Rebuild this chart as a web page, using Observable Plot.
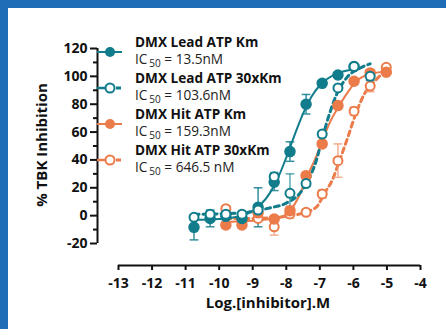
<!DOCTYPE html>
<html><head><meta charset="utf-8">
<script src="https://cdn.jsdelivr.net/npm/d3@7"></script>
<script src="https://cdn.jsdelivr.net/npm/@observablehq/plot@0.6"></script>
<style>
html,body{margin:0;padding:0;background:#fff;}
#frame{position:absolute;left:0;top:0;width:438px;height:321px;border-left:8px solid #1e6db5;border-top:8px solid #1e6db5;background:#fff;overflow:hidden;}
svg{display:block;}
</style></head><body><div id="frame"></div>
<script>
// ---- data (log10 molar dose vs % inhibition) ----
const leadKmDose  = [-10.75,-10.27,-9.80,-9.32,-8.84,-8.36,-7.89,-7.41,-6.93,-6.46,-5.98];
const leadKmVal   = [-8.4,-2,-0.5,-2,6,24,46,80,95,101,107];
const leadKmErr   = [9,6,2,3,14,6,7,7,1.5,1.5,1];

const lead30Dose  = [-10.75,-10.27,-9.80,-9.32,-8.84,-8.36,-7.89,-7.41,-6.93,-6.46,-5.98,-5.50];
const lead30Val   = [-1.2,1,1,1,4,28,16,23,58.6,91.7,107,100];
const lead30Err   = [2,1,1,1,1,3,14,2,2,1.5,1,3];

const hitKmDose   = [-9.80,-9.32,-8.84,-8.36,-7.89,-7.41,-6.93,-6.46,-5.98,-5.50,-5.02];
const hitKmVal    = [-6.7,-6.7,2,-2.4,3.6,28.7,51.5,79,96.5,102.5,103];
const hitKmErr    = [2,2,3,2,3,2,2,2,2,2,1];

const hit30Dose   = [-9.80,-9.32,-8.84,-8.36,-7.89,-7.41,-6.93,-6.46,-5.98,-5.50,-5.02];
const hit30Val    = [5,-4,-2,-8,1.2,2.4,15.6,39.5,75,93,106.5];
const hit30Err    = [2,1,1,6,3,2,3,12,3,4,2];

// fitted curves
const leadKmFit = [[-10.75,-3],[-10,-2.4],[-9.5,-1],[-9,3.4],[-8.5,15.8],[-8.25,27],[-8,41.7],[-7.75,58],[-7.5,73.3],[-7.25,85.3],[-7,93.6],[-6.5,102],[-5.98,105]];
const lead30Fit = [[-10.75,1],[-9.75,1.5],[-9,3],[-8.5,5.5],[-8,9],[-7.6,16],[-7.35,25],[-7.1,40],[-6.9,58],[-6.7,74],[-6.5,87],[-6.2,99],[-5.8,106],[-5.5,109]];
const hitKmFit  = [[-9.8,-4.5],[-9.3,-4],[-8.8,-3.3],[-8.4,-2],[-8.1,-0.5],[-7.87,4],[-7.6,15],[-7.37,28.7],[-7.15,40],[-6.92,54],[-6.7,67],[-6.42,79],[-6.17,88.5],[-5.93,96],[-5.46,102],[-4.98,103.5]];
const hit30Fit  = [[-9.8,-2],[-9,-2],[-8.4,-1.5],[-7.87,0],[-7.41,2.5],[-7.07,7],[-6.89,15],[-6.62,26],[-6.42,39],[-6.17,56],[-5.93,73],[-5.68,87],[-5.46,94],[-5.18,101],[-4.98,105]];

const seriesNames = ["DMX Lead ATP Km","DMX Lead ATP 30xKm","DMX Hit ATP Km","DMX Hit ATP 30xKm"];
const ic50Text    = ["13.5nM","103.6nM","159.3nM","646.5 nM"];
const xTicks      = [-13,-12,-11,-10,-9,-8,-7,-6,-5,-4];
const yTicks      = [-20,0,20,40,60,80,100,120];
const yMinorTicks = [-10,10,30,50,70,90,110];
const xTitle = "Log.[inhibitor].M";
const yTitle = "% TBK Inhibition";

// ---- styling ----
const TEAL = "#117c8b", ORANGE = "#ec7b4a";
const FONT = "'Open Sans', sans-serif";

function rows(dose, val, err) { return dose.map((d, i) => ({x: d, y: val[i], e: err[i]})); }
const sLeadKm = rows(leadKmDose, leadKmVal, leadKmErr);
const sLead30 = rows(lead30Dose, lead30Val, lead30Err);
const sHitKm  = rows(hitKmDose, hitKmVal, hitKmErr);
const sHit30  = rows(hit30Dose, hit30Val, hit30Err);

const CAP = 0.13;
function errMarks(data, color) {
  return [
    Plot.ruleX(data, {x: "x", y1: d => d.y - d.e, y2: d => d.y + d.e, stroke: color, strokeWidth: 1.5, strokeOpacity: 0.85}),
    Plot.link(data, {x1: d => d.x - CAP, x2: d => d.x + CAP, y1: d => d.y + d.e, y2: d => d.y + d.e, stroke: color, strokeWidth: 1.5, strokeOpacity: 0.85}),
    Plot.link(data, {x1: d => d.x - CAP, x2: d => d.x + CAP, y1: d => d.y - d.e, y2: d => d.y - d.e, stroke: color, strokeWidth: 1.5, strokeOpacity: 0.85})
  ];
}

const chart = Plot.plot({
  width: 438, height: 321,
  marginLeft: 110, marginRight: 26, marginTop: 40, marginBottom: 86,
  x: {domain: [-13, -4]},
  y: {domain: [-20, 120]},
  style: {fontFamily: FONT, fontSize: "14px", fontWeight: 700, color: "#111", background: "white", overflow: "visible"},
  marks: [
    // y axis (offset)
    Plot.ruleX([-13], {y1: -20, y2: 120, dx: -21, stroke: "#111", strokeWidth: 2}),
    Plot.axisY({ticks: yTicks, tickSize: 7, tickPadding: 3, dx: -21, tickFormat: d => String(d), label: null, strokeWidth: 2, fontWeight: 700, fontSize: 14, fill: "#111"}),
    Plot.axisY({ticks: yMinorTicks, tickSize: 4, dx: -21, tickFormat: null, text: null, label: null, strokeWidth: 2}),
    // x axis (offset)
    Plot.ruleY([-20], {x1: -13, x2: -4, dy: 22, stroke: "#111", strokeWidth: 2}),
    Plot.axisX({ticks: xTicks, tickSize: 5, tickPadding: 8, dy: 22, tickFormat: d => String(d), label: null, strokeWidth: 2, fontWeight: 700, fontSize: 14, fill: "#111"}),
    // fitted curves
    Plot.line(hit30Fit, {x: d => d[0], y: d => d[1], stroke: ORANGE, strokeWidth: 3, strokeDasharray: "5,4", curve: "monotone-x"}),
    Plot.line(hitKmFit, {x: d => d[0], y: d => d[1], stroke: ORANGE, strokeWidth: 2, curve: "monotone-x"}),
    Plot.line(lead30Fit, {x: d => d[0], y: d => d[1], stroke: TEAL, strokeWidth: 3, strokeDasharray: "5,4", curve: "monotone-x"}),
    Plot.line(leadKmFit, {x: d => d[0], y: d => d[1], stroke: TEAL, strokeWidth: 2, curve: "monotone-x"}),
    // error bars
    ...errMarks(sHit30, "#f0a07c"),
    ...errMarks(sHitKm, ORANGE),
    ...errMarks(sLead30, "#3e9aa6"),
    ...errMarks(sLeadKm, TEAL),
    // points
    Plot.dot(sHit30, {x: "x", y: "y", r: 4.5, stroke: ORANGE, strokeWidth: 2, fill: "white"}),
    Plot.dot(sHitKm, {x: "x", y: "y", r: 5, fill: ORANGE, stroke: ORANGE}),
    Plot.dot(sLeadKm, {x: "x", y: "y", r: 5, fill: TEAL, stroke: TEAL}),
    Plot.dot(sLead30, {x: "x", y: "y", r: 4.5, stroke: TEAL, strokeWidth: 2, fill: "white"})
  ]
});

document.getElementById("frame").appendChild(chart);

// ---- axis titles and legend (pixel layout) ----
const svg = d3.select(chart);
svg.append("text").attr("x", 260).attr("y", 300).attr("text-anchor", "middle")
  .attr("font-family", FONT).attr("font-weight", 700).attr("font-size", 15).attr("fill", "#111").text(xTitle);
svg.append("text").attr("transform", "translate(39,137) rotate(-90)").attr("text-anchor", "middle")
  .attr("font-family", FONT).attr("font-weight", 700).attr("font-size", 15).attr("fill", "#111").text(yTitle);

const legendColors = [TEAL, TEAL, ORANGE, ORANGE];
const legendOpen = [false, true, false, true];
const baseY = [39, 75, 111, 147];
const lg = svg.append("g").attr("text-anchor", "start");
seriesNames.forEach((name, i) => {
  const by = baseY[i], my = by + 5, c = legendColors[i];
  if (legendOpen[i]) {
    lg.append("line").attr("x1", 89).attr("x2", 98).attr("y1", my).attr("y2", my).attr("stroke", c).attr("stroke-width", 2.5);
    lg.append("line").attr("x1", 108).attr("x2", 113).attr("y1", my).attr("y2", my).attr("stroke", c).attr("stroke-width", 3);
    lg.append("circle").attr("cx", 102).attr("cy", my).attr("r", 4.5).attr("fill", "white").attr("stroke", c).attr("stroke-width", 2);
  } else {
    lg.append("line").attr("x1", 89).attr("x2", 114).attr("y1", my).attr("y2", my).attr("stroke", c).attr("stroke-width", 2);
    lg.append("circle").attr("cx", 102).attr("cy", my).attr("r", 5).attr("fill", c);
  }
  lg.append("text").attr("x", 127).attr("y", by).attr("text-anchor", "start").attr("font-family", FONT).attr("font-weight", 700)
    .attr("font-size", 13.6).attr("fill", "#111").text(name);
  const t = lg.append("text").attr("x", 127).attr("y", by + 17).attr("text-anchor", "start").attr("font-family", FONT).attr("font-weight", 400)
    .attr("font-size", 13.6).attr("fill", "#222");
  t.append("tspan").text("IC");
  t.append("tspan").attr("dx", 2).attr("dy", 3).attr("font-size", 10).text("50");
  t.append("tspan").attr("dy", -3).text(" = " + ic50Text[i]);
});
</script>
</body></html>
